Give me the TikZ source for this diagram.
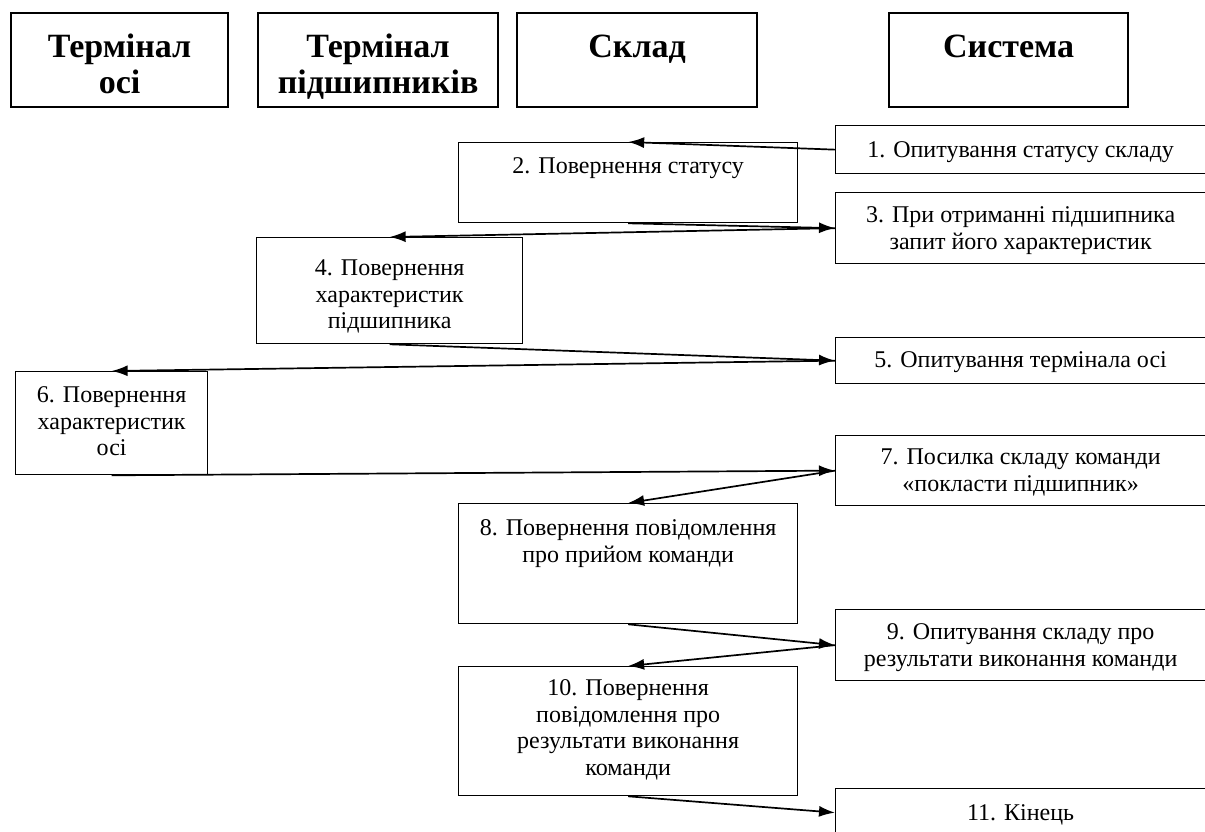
\documentclass[tikz,border=0pt]{standalone}
\usepackage{fontspec}
\setmainfont{Liberation Serif}
\usetikzlibrary{arrows.meta}

% fixed-size, top-aligned cell: [right indent], width, height, top padding, text
\newcommand\boxtext[5][0pt]{\begin{minipage}[c][#3][t]{#2}\centering\rightskip=#1 plus 1fil\vspace*{#4}\strut#5\end{minipage}}
\newcommand\hdrfont{\fontsize{34}{36}\selectfont\bfseries}
\newcommand\msgfont{\fontsize{24}{26.5}\selectfont}

\tikzset{
  hdr/.style={draw, line width=2.2pt, inner sep=0pt, anchor=north west, font=\hdrfont},
  msg/.style={draw, line width=1.3pt, inner sep=0pt, anchor=north west, font=\msgfont},
  arr/.style={line width=1.7pt, -{Latex[length=16pt,width=11pt]}}
}

\begin{document}
\begin{tikzpicture}[x=1pt, y=-1pt]
\useasboundingbox (0,0) rectangle (1205,832);

% participants
\node[hdr] (h1) at (10,12)  {\boxtext{217pt}{94pt}{19pt}{Термінал\\осі}};
\node[hdr] (h2) at (257,12) {\boxtext{240pt}{94pt}{19pt}{Термінал\\підшипників}};
\node[hdr] (h3) at (516,12) {\boxtext{240pt}{94pt}{19pt}{Склад}};
\node[hdr] (h4) at (888,12) {\boxtext{239pt}{94pt}{19pt}{Система}};

% system requests (right column, running past the page edge)
\node[msg] (r1)  at (835,125) {\boxtext[10pt]{380pt}{48pt}{13.5pt}{1. Опитування статусу складу}};
\node[msg] (r3)  at (835,192) {\boxtext[10pt]{380pt}{71pt}{11.5pt}{3. При отриманні підшипника\\запит його характеристик}};
\node[msg] (r5)  at (835,337) {\boxtext[10pt]{380pt}{46pt}{11.5pt}{5. Опитування термінала осі}};
\node[msg] (r7)  at (835,435) {\boxtext[10pt]{380pt}{70pt}{10.5pt}{7. Посилка складу команди\\«покласти підшипник»}};
\node[msg] (r9)  at (835,609) {\boxtext[10pt]{380pt}{71pt}{11.5pt}{9. Опитування складу про\\результати виконання команди}};
\node[msg] (r11) at (835,788) {\boxtext[10pt]{380pt}{48pt}{13.5pt}{11. Кінець}};

% replies
\node[msg] (l2)  at (458,142) {\boxtext{339pt}{80pt}{12.5pt}{2. Повернення статусу}};
\node[msg] (l4)  at (256,237) {\boxtext{266pt}{106pt}{19.5pt}{4. Повернення\\характеристик\\підшипника}};
\node[msg] (l6)  at (15,371)  {\boxtext{192pt}{103pt}{12.5pt}{6. Повернення\\характеристик\\осі}};
\node[msg] (l8)  at (458,503) {\boxtext{339pt}{120pt}{13.5pt}{8. Повернення повідомлення\\про прийом команди}};
\node[msg] (l10) at (458,666) {\boxtext{339pt}{129pt}{10.5pt}{10. Повернення\\повідомлення про\\результати виконання\\команди}};

% message flow
\draw[arr] (r1.west)  -- (l2.north);
\draw[arr] (l2.south) -- (r3.west);
\draw[arr] (r3.west)  -- (l4.north);
\draw[arr] (l4.south) -- (r5.west);
\draw[arr] (r5.west)  -- (l6.north);
\draw[arr] (l6.south) -- (r7.west);
\draw[arr] (r7.west)  -- (l8.north);
\draw[arr] (l8.south) -- (r9.west);
\draw[arr] (r9.west)  -- (l10.north);
\draw[arr] (l10.south) -- (r11.west);
\end{tikzpicture}
\end{document}
